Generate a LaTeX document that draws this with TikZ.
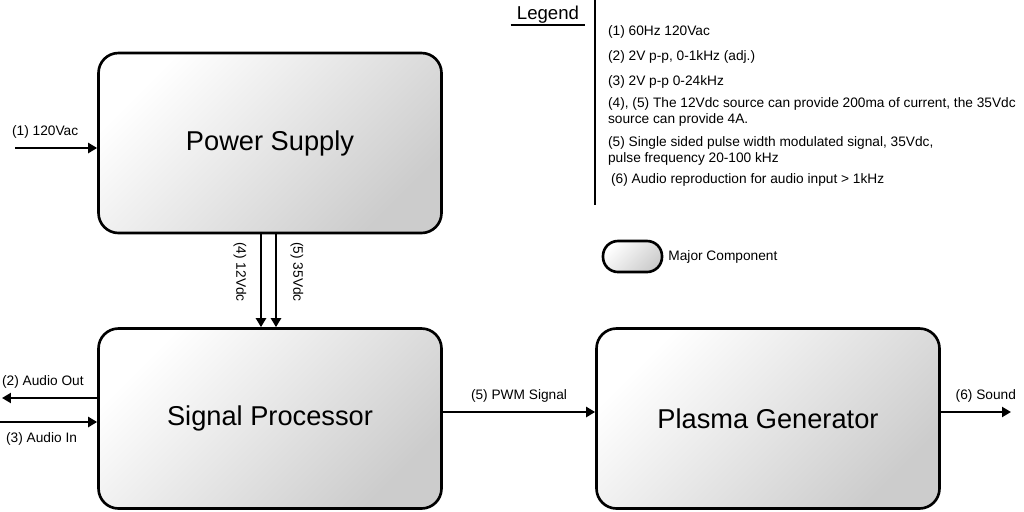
\documentclass[tikz,border=0pt]{standalone}
\usepackage{fontspec}
\setmainfont{Liberation Sans}
\usetikzlibrary{arrows.meta}

\begin{document}
\begin{tikzpicture}[
  blk/.style={rectangle, rounded corners=0.4cm, draw=black, line width=1.5pt, top color=white, bottom color=black!20, shading angle=45, minimum width=6.86cm, minimum height=3.6cm, font=\fontsize{15.5}{18}\selectfont},
  swatch/.style={rectangle, rounded corners=0.3cm, draw=black, line width=1.5pt, top color=white, bottom color=black!20, shading angle=45, minimum width=1.18cm, minimum height=0.62cm},
  lbl/.style={font=\fontsize{7.8}{9.1}\selectfont, inner sep=1pt},
  leg/.style={lbl, anchor=west, align=left},
  sig/.style={line width=1.5pt, -{Triangle[length=0.18cm, width=0.2cm]}}
]
  \useasboundingbox (0,0) rectangle (20.48,-10.24);

  %% ── Major components ──────────────────────────────────────────────────────
  \node[blk] (ps) at (5.40,-2.86) {Power Supply};
  \node[blk] (sp) at (5.40,-8.37) {Signal Processor};
  \node[blk] (pg) at (15.36,-8.37) {Plasma Generator};

  %% ── Free ends ─────────────────────────────────────────────────────────────
  \coordinate (acin)  at (0.30,-2.96);
  \coordinate (aout)  at (0.04,-7.96);
  \coordinate (ain)   at (0.00,-8.44);
  \coordinate (sound) at (20.22,-8.24);

  %% ── Signals ───────────────────────────────────────────────────────────────
  % mains in
  \draw[sig] (acin) --
    node[lbl, above right=4pt, pos=0, xshift=-0.26cm]{(1) 120Vac}
    (acin -| ps.west);
  % supply rails
  \draw[sig] ([xshift=-0.18cm]ps.south) -- ([xshift=-0.18cm]sp.north);
  \draw[sig] ([xshift=0.12cm]ps.south) -- ([xshift=0.12cm]sp.north);
  \node[lbl, rotate=-90] (v12) at (4.80,-5.44) {(4) 12Vdc};
  \node[lbl, rotate=-90] (v35) at (5.94,-5.44) {(5) 35Vdc};
  % audio out / in
  \draw[sig] (aout -| sp.west) --
    node[lbl, above right=4pt, pos=1, xshift=-0.2cm]{(2) Audio Out}
    (aout);
  \draw[sig] (ain) --
    node[lbl, below right=4pt, pos=0, xshift=-0.08cm]{(3) Audio In}
    (ain -| sp.west);
  % PWM
  \draw[sig] (sp.east |- sound) --
    node[lbl, above=4pt]{(5) PWM Signal}
    (pg.west |- sound);
  % sound out
  \draw[sig] (pg.east |- sound) --
    node[lbl, above left=4pt, pos=1, xshift=0.3cm]{(6) Sound}
    (sound);

  %% ── Legend ────────────────────────────────────────────────────────────────
  \node[inner sep=0.5pt, minimum width=1.48cm, font=\fontsize{10.6}{12}\selectfont] (leghdr) at (10.96,-0.30) {Legend};
  \draw[line width=1.2pt] (leghdr.south west) -- (leghdr.south east);
  \coordinate (legtop) at (11.90,0);
  \coordinate (legbot) at (11.90,-4.10);
  \draw[line width=1pt] (legtop) -- (legbot);

  \node[leg] (leg1) at (12.12,-0.64) {(1) 60Hz 120Vac};
  \node[leg] (leg2) at (12.12,-1.13) {(2) 2V p-p, 0-1kHz (adj.)};
  \node[leg] (leg3) at (12.12,-1.63) {(3) 2V p-p 0-24kHz};
  \node[leg] (leg4) at (12.12,-2.24) {(4), (5) The 12Vdc source can provide 200ma of current, the 35Vdc\\source can provide 4A.};
  \node[leg] (leg5) at (12.12,-3.02) {(5) Single sided pulse width modulated signal, 35Vdc,\\pulse frequency 20-100 kHz};
  \node[leg] (leg6) at (12.18,-3.60) {(6) Audio reproduction for audio input > 1kHz};

  \node[swatch] (major) at (12.65,-5.13) {};
  \node[lbl, anchor=west] (majortxt) at ([xshift=0.06cm]major.east) {Major Component};
\end{tikzpicture}
\end{document}
